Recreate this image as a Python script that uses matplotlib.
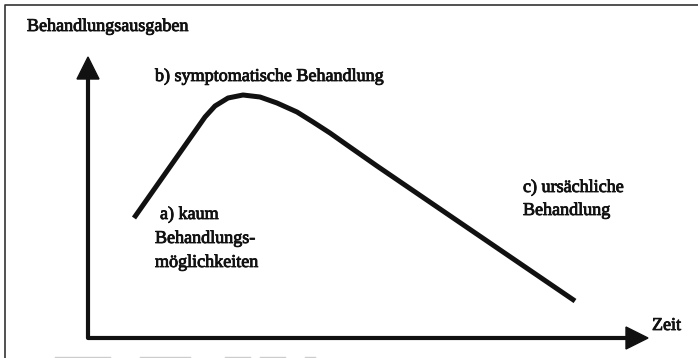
import numpy as np
import matplotlib.pyplot as plt
import matplotlib.patheffects as pe

plt.rcParams['font.family'] = ['Liberation Serif', 'DejaVu Serif']

# curve (pixel coords of the scanned diagram, y downwards)
curve_x = [134, 205, 215, 228, 243, 260, 277, 297, 313, 330, 347, 377, 575]
curve_y = [218, 117, 106, 98, 95, 97, 103, 112, 122, 133, 145, 166, 301]

# axes
origin = (88, 338)
y_tip = 57
x_tip = 648
head_len = 22
head_half = 11

labels = [
    ("Behandlungsausgaben", 27, 31),
    ("b) symptomatische Behandlung", 155, 81),
    ("a) kaum", 160, 219),
    ("Behandlungs-", 155, 243),
    ("möglichkeiten", 155, 267),
    ("c) ursächliche", 523, 192),
    ("Behandlung", 523, 215),
    ("Zeit", 652, 330),
]

# faint scan remnants along the bottom edge
scan_x0 = [55, 140, 225, 260, 305]
scan_x1 = [110, 190, 250, 285, 315]

fig = plt.figure(figsize=(6.98, 3.58), dpi=100)
ax = fig.add_axes([0, 0, 1, 1])
ax.set_xlim(0, 698)
ax.set_ylim(358, 0)
ax.axis('off')

# frame (top + left)
ax.plot([5, 5, 698], [358, 5, 5], color='#333333', lw=1.2)
for a, b in zip(scan_x0, scan_x1):
    ax.plot([a, b], [356.5, 356.5], color='#cccccc', lw=1)

ox, oy = origin
ax.plot([ox, ox, x_tip - head_len], [y_tip + head_len, oy, oy], color='#111111', lw=3,
        solid_joinstyle='round')
ax.fill([ox - head_half, ox + head_half, ox], [y_tip + head_len, y_tip + head_len, y_tip],
        color='#111111')
ax.fill([x_tip - head_len, x_tip - head_len, x_tip], [oy - head_half, oy + head_half, oy],
        color='#111111')

ax.plot(curve_x, curve_y, color='#111111', lw=3.6, solid_capstyle='butt',
        solid_joinstyle='round')

for txt, x, y in labels:
    ax.text(x, y, txt, fontsize=13, color='#111111', ha='left', va='baseline',
            path_effects=[pe.withStroke(linewidth=0.6, foreground='#111111')])

fig.savefig('out.png', dpi=100)
